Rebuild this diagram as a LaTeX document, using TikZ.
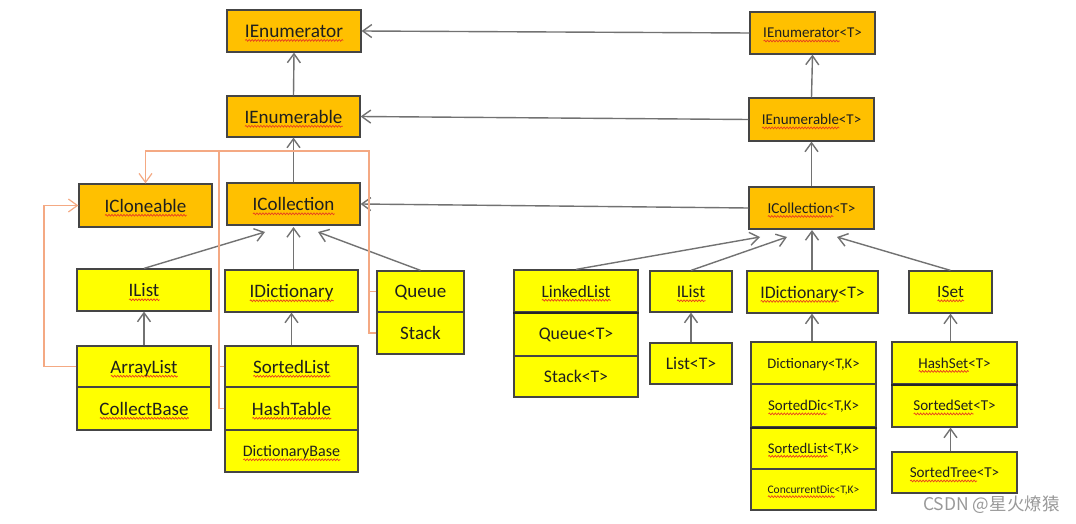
\documentclass[tikz,border=0pt]{standalone}
\usepackage{fontspec}
\setmainfont{Carlito}
\newfontfamily\cjkfont{Noto Sans CJK SC}
\usetikzlibrary{arrows.meta,calc,decorations.pathmorphing}
\definecolor{boxorange}{HTML}{FFC000}
\definecolor{boxyellow}{HTML}{FFFF00}
\definecolor{boxedge}{HTML}{454545}
\definecolor{arrowgray}{HTML}{727272}
\definecolor{linkorange}{HTML}{F4A983}
\definecolor{wavered}{HTML}{E8401E}
\newsavebox\wavebox
\newlength\wavelen
\newcommand\spellwave[1]{\sbox\wavebox{#1}\setlength\wavelen{\wd\wavebox}\rlap{\smash{\tikz[baseline=0pt]\draw[wavered, line width=0.7pt, decorate, decoration={snake, amplitude=0.9pt, segment length=3pt}] (0pt,-3.2pt) -- (\wavelen,-3.2pt);}}\usebox\wavebox}
\tikzset{
  box/.style={draw=boxedge, line width=1.2pt, inner sep=0pt, text depth=0pt, text=black!88, font=\fontsize{19}{20}\selectfont},
  obox/.style={box, fill=boxorange},
  ybox/.style={box, fill=boxyellow},
  fs/.style={font=\fontsize{#1}{#1}\selectfont},
  inherit/.style={draw=arrowgray, line width=1.4pt, -{Straight Barb[length=9pt,width=13pt]}},
  clonearrow/.style={draw=linkorange, line width=1.2pt, -{Straight Barb[length=9pt,width=13pt]}},
  cloneline/.style={draw=linkorange, line width=1.2pt},
  thicksep/.style={draw=black!85, line width=2.2pt},
}
\begin{document}
\begin{tikzpicture}[x=1pt,y=-1pt]
\fill[white] (0,0) rectangle (1076,524);
\useasboundingbox (0,0) rectangle (1076,524);

% ---- left (non-generic) ----
\node[obox, minimum width=134pt, minimum height=42pt, fs=19.3] (enum) at (294,31) {\spellwave{IEnumerator}};
\node[obox, minimum width=133pt, minimum height=41pt] (enumb) at (293.5,116.5) {\spellwave{IEnumerable}};
\node[obox, minimum width=133pt, minimum height=43pt] (clone) at (145.5,205.5) {\spellwave{ICloneable}};
\node[obox, minimum width=133pt, minimum height=42pt] (coll) at (293.5,204) {\spellwave{ICollection}};
\node[ybox, minimum width=134pt, minimum height=42pt] (ilist) at (144,290) {\spellwave{IList}};
\node[ybox, minimum width=133pt, minimum height=42pt] (idict) at (291.5,291) {\spellwave{IDictionary}};
\node[ybox, minimum width=87pt, minimum height=41pt] (queue) at (420.5,291.5) {Queue};
\node[ybox, minimum width=87pt, minimum height=42pt] (stack) at (420.5,333) {Stack};
\node[ybox, minimum width=134pt, minimum height=41pt] (arrl) at (144,366.5) {\spellwave{ArrayList}};
\node[ybox, minimum width=134pt, minimum height=43pt] (collb) at (144,408.5) {\spellwave{CollectBase}};
\node[ybox, minimum width=133pt, minimum height=41pt] (sortl) at (291.5,366.5) {\spellwave{SortedList}};
\node[ybox, minimum width=133pt, minimum height=43pt] (hasht) at (291.5,408.5) {\spellwave{HashTable}};
\node[ybox, minimum width=133pt, minimum height=42pt, fs=16] (dictb) at (291.5,451) {\spellwave{DictionaryBase}};

% ---- right (generic) ----
\node[obox, minimum width=125pt, minimum height=42pt, fs=15] (enumT) at (812.5,33) {\spellwave{IEnumerator}<T>};
\node[obox, minimum width=125pt, minimum height=43pt, fs=15] (enumbT) at (811.5,119.5) {\spellwave{IEnumerable}<T>};
\node[obox, minimum width=125pt, minimum height=42pt, fs=15.2] (collT) at (811.5,208) {\spellwave{ICollection}<T>};
\node[ybox, minimum width=124pt, minimum height=42pt, fs=17.3] (linked) at (576,291) {\spellwave{LinkedList}};
\node[ybox, minimum width=124pt, minimum height=44pt, fs=17.7] (queueT) at (576,334) {Queue<T>};
\node[ybox, minimum width=124pt, minimum height=41pt, fs=17.7] (stackT) at (576,376.5) {Stack<T>};
\node[ybox, minimum width=82pt, minimum height=41pt, fs=17.6] (ilistT) at (691,291.5) {\spellwave{IList}};
\node[ybox, minimum width=82pt, minimum height=41pt, fs=17.7] (listT) at (691,363.5) {List<T>};
\node[ybox, minimum width=131pt, minimum height=42pt, fs=17.7] (idictT) at (812.5,292) {\spellwave{IDictionary}<T>};
\node[ybox, minimum width=125pt, minimum height=42pt, fs=14.6] (dictT) at (813.5,363) {Dictionary<T,K>};
\node[ybox, minimum width=125pt, minimum height=43pt, fs=14.9] (sdicT) at (813.5,405.5) {\spellwave{SortedDic}<T,K>};
\node[ybox, minimum width=125pt, minimum height=42pt, fs=14.7] (slistT) at (813.5,448) {\spellwave{SortedList}<T,K>};
\node[ybox, minimum width=125pt, minimum height=41pt, fs=11.5] (cdicT) at (813.5,489.5) {\spellwave{ConcurrentDic}<T,K>};
\node[ybox, minimum width=83pt, minimum height=42pt, fs=17.3] (iset) at (950.5,292) {\spellwave{ISet}};
\node[ybox, minimum width=125pt, minimum height=42pt, fs=15.1] (hsetT) at (954.5,363) {\spellwave{HashSet}<T>};
\node[ybox, minimum width=125pt, minimum height=43pt, fs=15.1] (ssetT) at (954.5,405.5) {\spellwave{SortedSet}<T>};
\node[ybox, minimum width=125pt, minimum height=41pt, fs=15.1] (streeT) at (954.5,472.5) {\spellwave{SortedTree}<T>};

% thick separators
\draw[thicksep] (linked.south west) -- (linked.south east);
\draw[thicksep] (sdicT.south west) -- (sdicT.south east);
\draw[thicksep] (hsetT.south west) -- (hsetT.south east);

% ---- inheritance arrows ----
\draw[inherit] (enumb.north) -- (enum.south);
\draw[inherit] (coll.north) -- (enumb.south);
\draw[inherit] (enumT.west) -- (enum.east);
\draw[inherit] (enumbT.west) -- (enumb.east);
\draw[inherit] (collT.west) -- (coll.east);
\draw[inherit] (enumbT.north) -- (enumT.south);
\draw[inherit] (collT.north) -- (enumbT.south);

\coordinate (cA) at (265,232);
\coordinate (cB) at (318,232);
\coordinate (cC) at (293.5,227);
\draw[inherit] (ilist.north) -- (cA);
\draw[inherit] (idict.north -| cC) -- (cC);
\draw[inherit] (queue.north) -- (cB);
\draw[inherit] (arrl.north) -- (ilist.south);
\draw[inherit] (sortl.north) -- (idict.south);

\coordinate (rA) at (760,237);
\coordinate (rB) at (787,237);
\coordinate (rC) at (812,230);
\coordinate (rD) at (837,237);
\draw[inherit] (linked.north) -- (rA);
\draw[inherit] (ilistT.north) -- (rB);
\draw[inherit] (idictT.north -| rC) -- (rC);
\draw[inherit] (iset.north) -- (rD);
\draw[inherit] (listT.north) -- (ilistT.south);
\draw[inherit] (dictT.north -| rC) -- (idictT.south -| rC);
\draw[inherit] (hsetT.north -| iset.south) -- (iset.south);
\draw[inherit] (streeT.north -| iset.south) -- (ssetT.south -| iset.south);

% ---- ICloneable links ----
\coordinate (oR) at (369,151);
\coordinate (oM) at (219,151);
\coordinate (oL) at (44,205.5);
\draw[clonearrow] (stack.west) -| (oR) -| (clone.north);
\draw[cloneline] (queue.west) -- (queue.west -| oR);
\draw[cloneline] (hasht.west) -| (oM);
\draw[cloneline] (sortl.west) -- (sortl.west -| oM);
\draw[clonearrow] (arrl.west) -| (oL) -- (clone.west);

% watermark
\node[font=\cjkfont\fontsize{17.5}{20}\selectfont, text=black!40, anchor=west, inner sep=0pt] (wm) at (923,505) {CSDN @星火燎猿};
\end{tikzpicture}
\end{document}
